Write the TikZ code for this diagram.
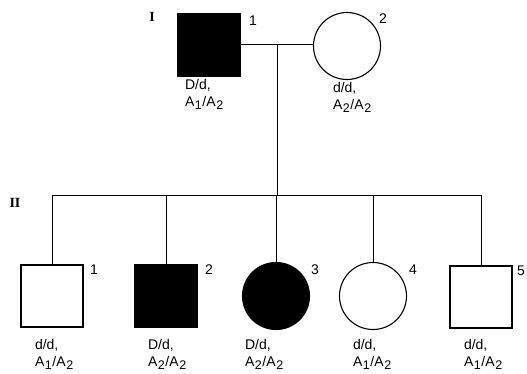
\documentclass[tikz,border=0pt]{standalone}
\usepackage{fontspec}
\setmainfont{Liberation Sans}
\newfontfamily\genfont{Liberation Serif}
\newcommand\allele[2]{A\kern0.6pt\raisebox{-0.4ex}{\fontsize{12.5}{12.5}\selectfont #1}\kern0.6pt/A\kern0.6pt\raisebox{-0.4ex}{\fontsize{12.5}{12.5}\selectfont #2}}
\begin{document}
\begin{tikzpicture}[x=1pt,y=-1pt,
  every node/.style={inner sep=0pt,outer sep=0pt},
  line/.style={line width=0.9pt},
  male/.style={draw,line width=1.1pt,rectangle,minimum size=62pt},
  female/.style={draw,line width=1.1pt,circle,minimum size=67pt},
  affected/.style={fill=black},
  num/.style={font=\fontsize{14}{14}\selectfont},
  geno/.style={font=\fontsize{14}{17.5}\selectfont,align=left,anchor=north west},
  gen/.style={font=\genfont\bfseries\fontsize{14}{14}\selectfont}]
\useasboundingbox (0,0) rectangle (527,373);

% generation I
\node[gen] (gI) at (152,17) {I};
\node[male,affected] (p11) at (209,45) {};
\node[female] (p12) at (347,46) {};
\node[num] (n11) at (253,21) {1};
\node[num] (n12) at (383,19) {2};
\node[geno] (g11) at (185,79) {D/d,\\\allele{1}{2}};
\node[geno] (g12) at (333,82) {d/d,\\\allele{2}{2}};

% generation II
\node[gen] (gII) at (15,203) {II};
\node[male] (p21) at (52,296) {};
\node[male,affected] (p22) at (166,296) {};
\node[female,affected] (p23) at (276,296) {};
\node[female] (p24) at (373,296) {};
\node[male] (p25) at (481,297) {};
\node[num] (n21) at (94,270) {1};
\node[num] (n22) at (209,270) {2};
\node[num] (n23) at (315,270) {3};
\node[num] (n24) at (413,270) {4};
\node[num] (n25) at (521,271) {5};
\node[geno] (g21) at (35,339) {d/d,\\\allele{1}{2}};
\node[geno] (g22) at (148,339) {D/d,\\\allele{2}{2}};
\node[geno] (g23) at (245,339) {D/d,\\\allele{2}{2}};
\node[geno] (g24) at (353,339) {d/d,\\\allele{1}{2}};
\node[geno] (g25) at (464,339) {d/d,\\\allele{1}{2}};

% mating, descent and sibship lines
\coordinate (mate) at (277,44);
\coordinate (sib) at (277,195);
\draw[line] (p11.east |- mate) -- (p12.west |- mate);
\draw[line] (mate) -- (sib);
\draw[line] (p21.north |- sib) -- (p25.north |- sib);
\foreach \k in {p21,p22,p23,p24,p25}
  \draw[line] (\k.north |- sib) -- (\k.north);
\end{tikzpicture}
\end{document}
